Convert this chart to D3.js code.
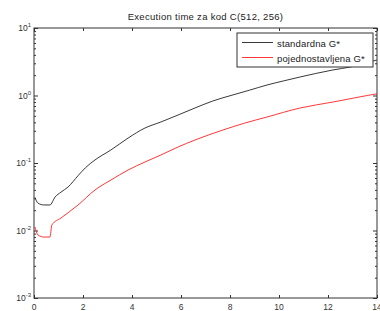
<!DOCTYPE html>
<html>
<head>
<meta charset="utf-8">
<script src="https://cdn.jsdelivr.net/npm/d3@7"></script>
<style>
body{margin:0;background:#fff;}
svg text{font-family:"Liberation Sans",Arial,sans-serif;}
</style>
</head>
<body>
<main></main>
<script>
// ocitano sa slike
var tStd = [0.04,0.16,0.4,0.65,0.86,1.1,1.39,1.8,2.1,2.49,3.14,3.84,4.53,5.18,5.88,6.57,7.3,8.12,8.8,9.51,10.2,10.86,11.5,12.2,12.9,13.5,14];
var vStd = [0.031,0.0255,0.0239,0.0239,0.0313,0.037,0.0441,0.0650,0.085,0.111,0.156,0.234,0.33,0.405,0.514,0.653,0.83,1.02,1.2,1.43,1.65,1.88,2.12,2.39,2.64,3.0,3.36];
var tPoj = [0.04,0.16,0.4,0.65,0.73,1.1,1.8,2.49,3.14,3.84,4.53,5.18,5.88,6.57,7.71,8.6,9.51,10.86,12.2,13.6,14];
var vPoj = [0.0113,0.0086,0.008,0.008,0.0121,0.0153,0.0239,0.0398,0.056,0.0787,0.1035,0.1315,0.1726,0.219,0.308,0.39,0.48,0.653,0.8,1.0,1.06];
var xTicks = [0,2,4,6,8,10,12,14];
var yExps = [-3,-2,-1,0,1];
var legendNames = ["standardna G*","pojednostavljena G*"];
var colors = ["#222","#ff2020"];

var W = 380, H = 311;
var m = {left:34, right:3, top:28, bottom:13};

var svg = d3.select("main").append("svg")
  .attr("width", W).attr("height", H);

var x = d3.scaleLinear().domain([0,14]).range([m.left, W-m.right]);
var y = d3.scaleLog().domain([1e-3,10]).range([H-m.bottom, m.top]);

svg.append("text")
  .attr("x", (m.left+W-m.right)/2).attr("y", 20)
  .attr("text-anchor","middle").attr("font-size","9.5px")
  .attr("letter-spacing","0.3px").attr("fill","#222")
  .text("Execution time za kod C(512, 256)");

// minor ticks
var minor = [];
for (var e=-3; e<1; e++) for (var k=2; k<10; k++) minor.push(k*Math.pow(10,e));

svg.append("g")
  .attr("transform","translate(" + x(0) + ",0)")
  .call(d3.axisRight(y).tickValues(minor).tickSize(2).tickFormat(""))
  .call(g=>g.select(".domain").remove());
svg.append("g")
  .attr("transform","translate(" + x(14) + ",0)")
  .call(d3.axisLeft(y).tickValues(minor).tickSize(2).tickFormat(""))
  .call(g=>g.select(".domain").remove());

svg.append("g")
  .attr("transform","translate(" + x(0) + ",0)")
  .call(d3.axisRight(y).tickValues(yExps.map(d=>Math.pow(10,d))).tickSize(4).tickFormat(""))
  .call(g=>g.select(".domain").remove());
svg.append("g")
  .attr("transform","translate(" + x(14) + ",0)")
  .call(d3.axisLeft(y).tickValues(yExps.map(d=>Math.pow(10,d))).tickSize(4).tickFormat(""))
  .call(g=>g.select(".domain").remove());

yExps.forEach(function(d){
  var t = svg.append("text")
    .attr("x", x(0)-3).attr("y", y(Math.pow(10,d))+3)
    .attr("text-anchor","end").attr("font-size","8.5px").attr("fill","#333");
  t.append("tspan").text("10");
  t.append("tspan").attr("dy",-4).attr("font-size","6px").text(d);
});

svg.append("g")
  .attr("transform","translate(0," + y(1e-3) + ")")
  .call(d3.axisTop(x).tickValues(xTicks).tickSize(3).tickFormat(""))
  .call(g=>g.select(".domain").remove());
svg.append("g")
  .attr("transform","translate(0," + y(10) + ")")
  .call(d3.axisBottom(x).tickValues(xTicks).tickSize(3).tickFormat(""))
  .call(g=>g.select(".domain").remove());

svg.selectAll(".xl").data(xTicks).enter().append("text")
  .attr("x", d=>x(d)).attr("y", H-1)
  .attr("text-anchor","middle").attr("font-size","8.5px").attr("fill","#333")
  .text(d=>d);

svg.selectAll(".tick line").attr("stroke","#333");

var line = d3.line().x(d=>x(d[0])).y(d=>y(d[1])).curve(d3.curveMonotoneX);
svg.append("path").datum(d3.zip(tStd,vStd))
  .attr("d", line).attr("fill","none").attr("stroke",colors[0]).attr("stroke-width",0.9);
svg.append("path").datum(d3.zip(tPoj,vPoj))
  .attr("d", line).attr("fill","none").attr("stroke",colors[1]).attr("stroke-width",0.9);

svg.append("rect")
  .attr("x", m.left).attr("y", m.top)
  .attr("width", W-m.right-m.left).attr("height", H-m.bottom-m.top)
  .attr("fill","none").attr("stroke","#333").attr("stroke-width",1);

// legenda
var lg = svg.append("g").attr("transform","translate(237,33)");
lg.append("rect").attr("width",136).attr("height",34)
  .attr("fill","#fff").attr("stroke","#333").attr("stroke-width",1);
legendNames.forEach(function(n,i){
  lg.append("line").attr("x1",5).attr("x2",36).attr("y1",9.5+i*15).attr("y2",9.5+i*15)
    .attr("stroke",colors[i]).attr("stroke-width",0.9);
  lg.append("text").attr("x",40).attr("y",13.5+i*15).attr("font-size","9.5px")
    .attr("letter-spacing","0.15px").attr("fill","#222").text(n);
});
</script>
</body>
</html>
